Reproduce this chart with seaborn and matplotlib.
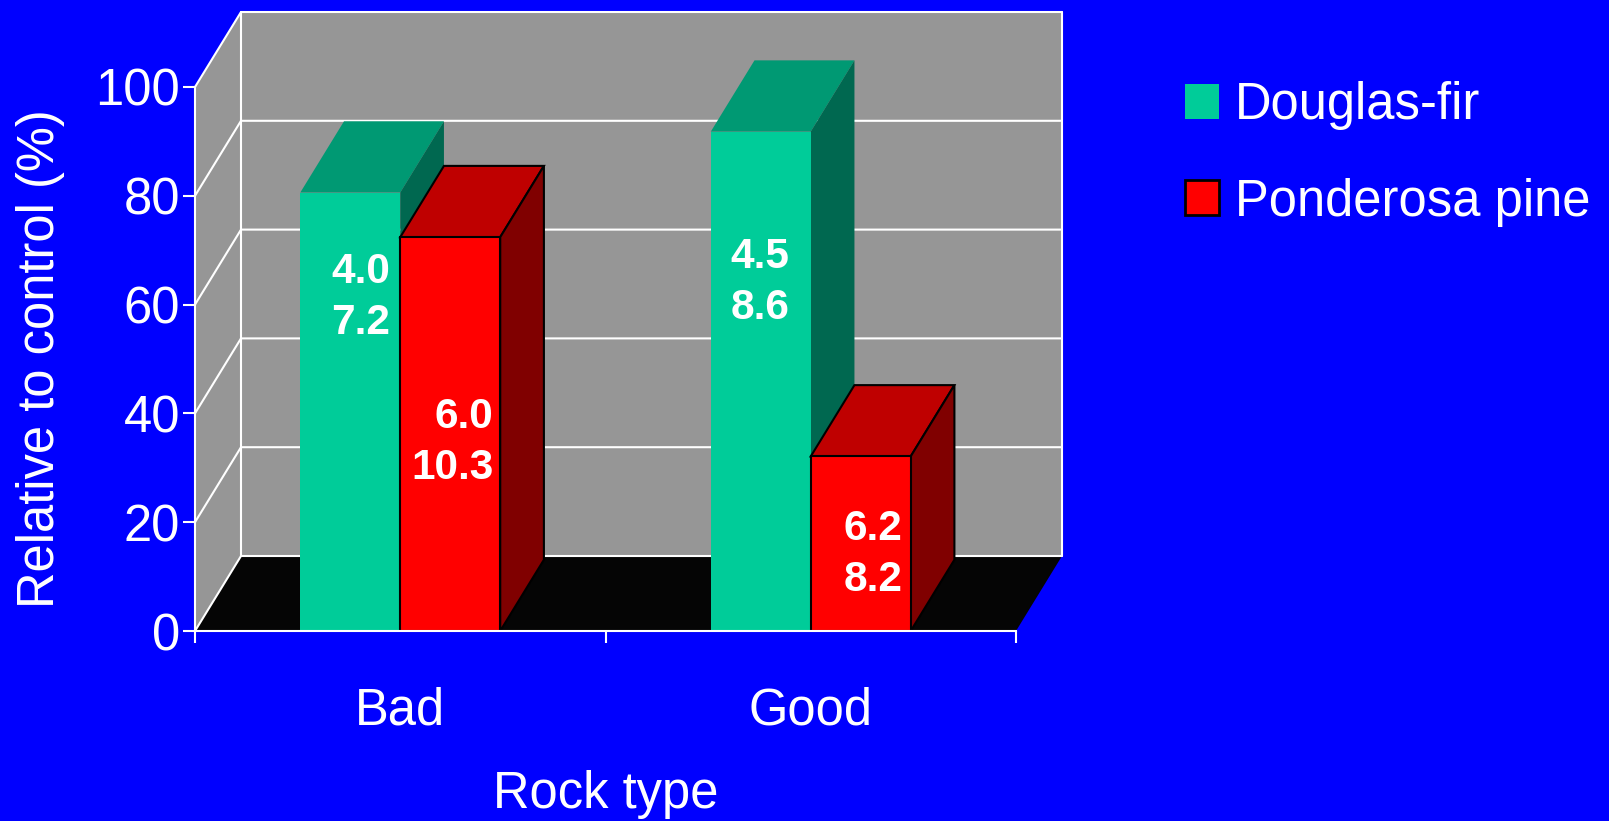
import matplotlib
matplotlib.use("Agg")
import matplotlib.pyplot as plt
import pandas as pd
import seaborn as sns
from matplotlib.patches import Polygon, Patch

# Seedling growth relative to control, by rock type and species
rock_types = ["Bad", "Good"]
species = ["Douglas-fir", "Ponderosa pine"]
douglas_fir = [80.6, 91.8]
ponderosa_pine = [72.4, 32.1]

# Two figures printed on each bar (upper and lower line)
douglas_fir_upper = [4.0, 4.5]
douglas_fir_lower = [7.2, 8.6]
ponderosa_upper = [6.0, 6.2]
ponderosa_lower = [10.3, 8.2]

y_ticks = [0, 20, 40, 60, 80, 100]

# Colours: front face, top face, side face, outline
BLUE = "#0000FF"
WALL = "#969696"
FLOOR = "#050505"
STYLE = {
    "Douglas-fir": ("#00CC99", "#009973", "#006850", "none"),
    "Ponderosa pine": ("#FF0000", "#BF0000", "#800000", "black"),
}

sns.set_style("white")
plt.rcParams["font.family"] = ["Liberation Sans", "DejaVu Sans"]
FS = 36.5
FS_BAR = 30.5

W, H, DPI = 1609, 821, 100
fig = plt.figure(figsize=(W / DPI, H / DPI), dpi=DPI, facecolor=BLUE)
ax = fig.add_axes([195 / W, (H - 631) / H, 821 / W, 544 / H])
ax.set_facecolor(BLUE)

df = pd.DataFrame({
    "Rock type": rock_types * 2,
    "Species": [species[0]] * len(rock_types) + [species[1]] * len(rock_types),
    "value": douglas_fir + ponderosa_pine,
})
sns.barplot(data=df, x="Rock type", y="value", hue="Species",
            order=rock_types, hue_order=species,
            palette=[STYLE[s][0] for s in species],
            width=0.487, saturation=1, errorbar=None, legend=False, ax=ax)

x0, x1 = -0.5, 1.5
ax.set_xlim(x0, x1)
ax.set_ylim(0, 100)


def px_to_data(px_dx, px_dy):
    """Convert a screen offset in pixels to a data offset."""
    bx, by = ax.transData.transform((0, 0))
    return ax.transData.inverted().transform((bx + px_dx, by + px_dy))


# Perspective depth of the box and of the bars
dx, dy = px_to_data(46, 75)
bdx, bdy = 0.95 * dx, 0.95 * dy

# Walls and floor
ax.add_patch(Polygon([(x0 + dx, dy), (x1 + dx, dy), (x1 + dx, 100 + dy), (x0 + dx, 100 + dy)],
                     closed=True, fc=WALL, ec="none", zorder=0.5, clip_on=False))
ax.add_patch(Polygon([(x0, 0), (x0 + dx, dy), (x0 + dx, 100 + dy), (x0, 100)],
                     closed=True, fc=WALL, ec="none", zorder=0.5, clip_on=False))
ax.add_patch(Polygon([(x0, 0), (x1, 0), (x1 + dx, dy), (x0 + dx, dy)],
                     closed=True, fc=FLOOR, ec="none", zorder=0.6, clip_on=False))

# Gridlines running across the side wall and the back wall
for v in y_ticks:
    ax.plot([x0, x0 + dx, x1 + dx], [v, v + dy, v + dy], color="white", lw=1.5,
            zorder=0.8, clip_on=False, solid_joinstyle="miter")
for xe in (x0 + dx, x1 + dx):
    ax.plot([xe, xe], [dy, 100 + dy], color="white", lw=1.5, zorder=0.8, clip_on=False)

# 3-D faces on each bar
label_pos = {  # baseline of upper line (data units), gap to bar's right edge (px)
    ("Douglas-fir", 0): (63.9, 10), ("Douglas-fir", 1): (66.8, 21),
    ("Ponderosa pine", 0): (37.4, 7), ("Ponderosa pine", 1): (16.7, 8),
}
line_step = px_to_data(0, 51)[1]
labels = {
    "Douglas-fir": (douglas_fir_upper, douglas_fir_lower),
    "Ponderosa pine": (ponderosa_upper, ponderosa_lower),
}

for si, (sp, container) in enumerate(zip(species, ax.containers)):
    front, top_c, side_c, edge = STYLE[sp]
    lw = 1.5 if edge != "none" else 0
    z = 2 + si
    for k, bar in enumerate(container):
        a = bar.get_x()
        b = a + bar.get_width()
        h = bar.get_height()
        bar.set_zorder(z + 0.5)
        bar.set_edgecolor(edge)
        bar.set_linewidth(lw)
        ax.add_patch(Polygon([(a, h), (b, h), (b + bdx, h + bdy), (a + bdx, h + bdy)],
                             closed=True, fc=top_c, ec=edge, lw=lw, zorder=z,
                             clip_on=False, joinstyle="miter"))
        ax.add_patch(Polygon([(b, 0), (b + bdx, bdy), (b + bdx, h + bdy), (b, h)],
                             closed=True, fc=side_c, ec=edge, lw=lw, zorder=z,
                             clip_on=False, joinstyle="miter"))
        y_up, gap = label_pos[(sp, k)]
        xr = b - px_to_data(gap, 0)[0]
        upper, lower = labels[sp]
        for j, val in enumerate((upper[k], lower[k])):
            ax.text(xr, y_up - j * line_step, f"{val:.1f}", ha="right", va="baseline",
                    color="white", fontsize=FS_BAR, fontweight="bold", zorder=6)

# Axes styling
for side in ("top", "right"):
    ax.spines[side].set_visible(False)
for side in ("left", "bottom"):
    ax.spines[side].set_color("white")
    ax.spines[side].set_linewidth(1.5)
    ax.spines[side].set_zorder(5)

ax.set_yticks(y_ticks)
ax.set_xticks(range(len(rock_types)))
ax.set_xticklabels(rock_types)
ax.set_xticks([x0, 0.5, x1], minor=True)
ax.tick_params(axis="y", left=True, length=8.6, width=1.5, color="white",
               labelcolor="white", labelsize=FS, pad=2, direction="out")
ax.tick_params(axis="x", which="major", bottom=True, length=0, pad=40,
               labelcolor="white", labelsize=FS)
ax.tick_params(axis="x", which="minor", bottom=True, length=8.6, width=1.5,
               color="white", direction="out")

ax.set_ylabel("Relative to control (%)", fontsize=FS, color="white")
ax.yaxis.set_label_coords(-0.158, 0.5)
ax.set_xlabel("Rock type", fontsize=FS, color="white")
ax.xaxis.set_label_coords(0.5, -0.255)

handles = [Patch(facecolor=STYLE[s][0], edgecolor=STYLE[s][3],
                 linewidth=2 if STYLE[s][3] != "none" else 0, label=s) for s in species]
fig.legend(handles=handles, loc="upper left", bbox_to_anchor=(1185 / W, 1 - 81 / H),
           frameon=False, fontsize=FS, labelcolor="white", handlelength=0.68,
           handleheight=0.68, handletextpad=0.3, labelspacing=0.94,
           borderpad=0, borderaxespad=0)

fig.savefig("out.png", dpi=DPI, facecolor=BLUE)
